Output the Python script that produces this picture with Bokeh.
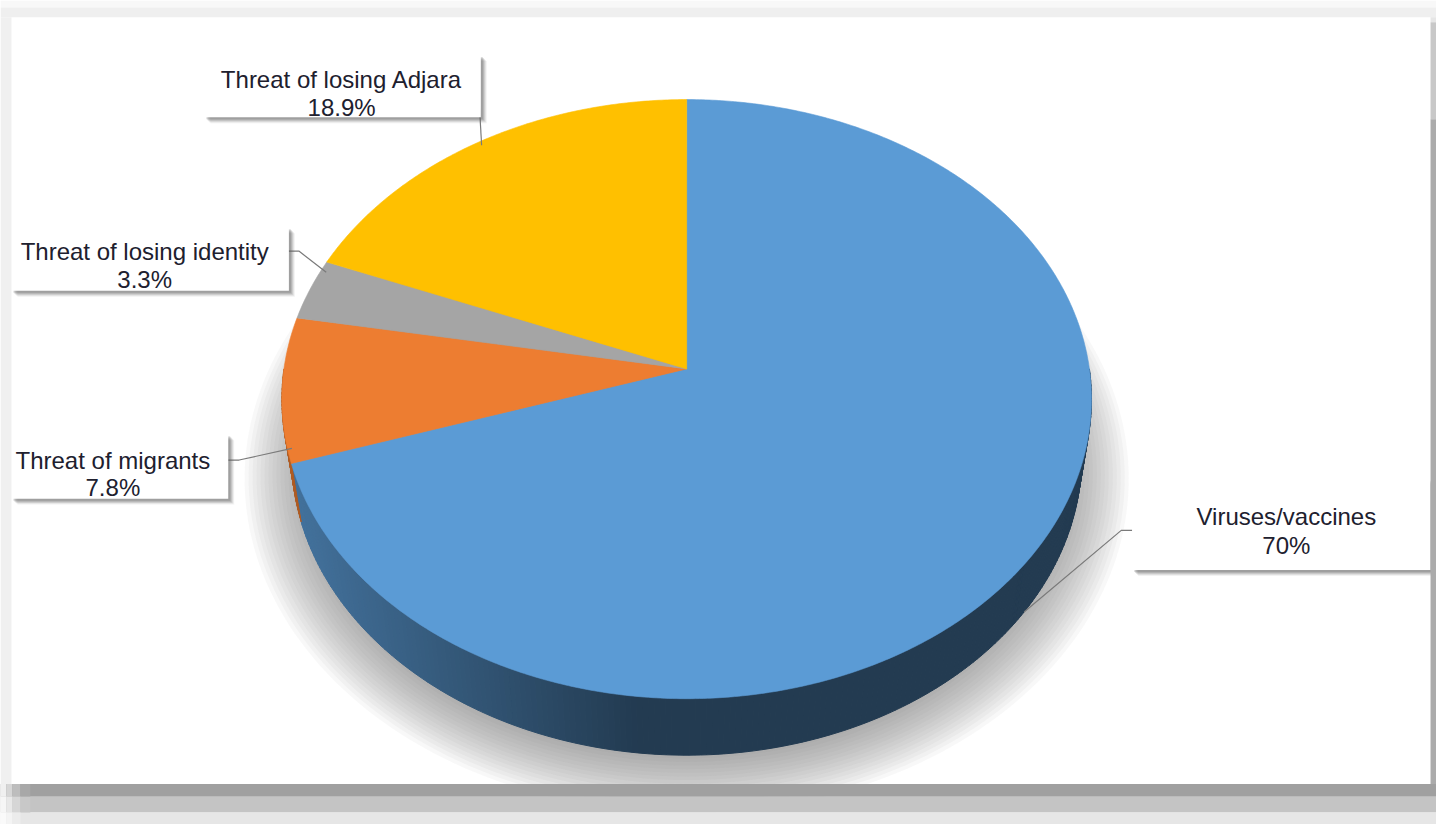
import numpy as np
from bokeh.plotting import figure
from bokeh.models import Range1d
from bokeh.embed import file_html
from bokeh.resources import INLINE
from bokeh.core.properties import value

# ---------------- data ----------------
categories = ["Viruses/vaccines", "Threat of migrants", "Threat of losing identity", "Threat of losing Adjara"]
shares = [70.0, 7.8, 3.3, 18.9]
share_labels = ["70%", "7.8%", "3.3%", "18.9%"]

# ---------------- style / layout ----------------
top_colors = ["#5b9bd5", "#ed7d31", "#a5a5a5", "#ffc000"]
TEXT_COLOR = "#20202e"
FONT = "Liberation Sans"

# label boxes: (left, right, top, bottom), text centre x, baseline 1, baseline 2, elbow points
label_boxes = [(1138, 1438, 483, 575), (11, 229, 438, 503), (11, 290, 229, 293), (205, 483, 55, 118)]
label_cx = [1293, 113, 145, 343]
label_base1 = [521, 464, 253, 80]
label_base2 = [550, 492, 282, 108]
label_elbows = [[(1138, 535), (1127, 535)], [(227, 464), (240, 464)],
                [(288, 253), (300, 253)], [(480, 78)]]
anchor_shift = [0.0, 0.0, 4.0, 0.0]   # degrees, fine placement of leader ends

# 3-D projection of the pie (screen pixel space)
CX, CY = 690.0, 372.0
FSC = 2704.0
DIST = 6.677
SA, CA = 0.7393, 0.6733
THICK = 0.2235


def proj(theta_deg, r=1.0, h=0.0):
    th = np.radians(np.asarray(theta_deg, dtype=float))
    u = r * np.sin(th)
    v = -r * np.cos(th)
    z = DIST - h * SA - v * CA
    x = CX + FSC * u / z
    y = CY - FSC * (h * CA - v * SA) / z
    return x, y


def shade(hex_color, f):
    h = hex_color.lstrip("#")
    rgb = [int(h[i:i + 2], 16) for i in (0, 2, 4)]
    return "#" + "".join("%02x" % int(max(0, min(255, round(c * f)))) for c in rgb)


total = sum(shares)
ends = np.cumsum([s / total * 360.0 for s in shares])
starts = np.concatenate([[0.0], ends[:-1]])
mids = (starts + ends) / 2.0

p = figure(width=1436, height=824, x_range=Range1d(0, 1444), y_range=Range1d(832, 0),
           output_backend="svg", toolbar_location=None, min_border=0)
p.axis.visible = False
p.grid.visible = False
p.outline_line_color = None
p.background_fill_color = "white"
p.border_fill_color = "white"

# ---- soft shadow under the pie ----
sh_xs, sh_ys = [], []
full = np.linspace(0, 360, 241)
for k in range(18):
    r = 1.12 - k * 0.01
    x, y = proj(full, r=r, h=-0.24)
    sh_xs.append(list(x))
    sh_ys.append(list(y + 10))
p.patches(sh_xs, sh_ys, fill_color="#6e6e6e", fill_alpha=0.05, line_color=None)

# ---- side wall ----
sd_xs, sd_ys, sd_cols = [], [], []
for i in range(len(shares)):
    a0 = max(starts[i], 90.0)
    a1 = min(ends[i], 270.0)
    if a1 <= a0:
        continue
    n = max(2, int((a1 - a0) / 0.75) + 1)
    angs = np.linspace(a0, a1, n)
    for j in range(n - 1):
        ta, tb = angs[j], angs[j + 1]
        xa, ya = proj([ta, tb], 1.0, 0.0)
        xb, yb = proj([tb, ta], 1.0, -THICK)
        xs = list(xa) + list(xb)
        ys = list(ya) + list(yb)
        mx = float(np.mean(xs))
        f = 0.74 - (0.74 - 0.38) * np.clip((mx - 290.0) / (640.0 - 290.0), 0, 1)
        sd_xs.append(xs)
        sd_ys.append(ys)
        sd_cols.append(shade(top_colors[i], f))
p.patches(sd_xs, sd_ys, fill_color=sd_cols, line_color=sd_cols, line_width=1)

# ---- top face ----
tp_xs, tp_ys = [], []
for i in range(len(shares)):
    angs = np.linspace(starts[i], ends[i], max(3, int(ends[i] - starts[i]) * 2 + 2))
    x, y = proj(angs)
    tp_xs.append([CX] + list(x))
    tp_ys.append([CY] + list(y))
p.patches(tp_xs, tp_ys, fill_color=top_colors, line_color=top_colors, line_width=0.6)

# ---- leader lines ----
ld_xs, ld_ys = [], []
for i in range(len(shares)):
    a = mids[i] + anchor_shift[i]
    if 90.0 < a < 270.0:
        ax, ay = proj(a, 1.0, -THICK)
    else:
        ax, ay = proj(a, 0.985, 0.0)
    pts = label_elbows[i] + [(float(ax), float(ay))]
    ld_xs.append([q[0] for q in pts])
    ld_ys.append([q[1] for q in pts])
p.multi_line(ld_xs, ld_ys, line_color="#7a7a7a", line_width=1.2)

# ---- label boxes with shadow ----
for off, al in [(6, 0.08), (5, 0.12), (4, 0.16), (3, 0.20), (2, 0.22)]:
    p.quad(left=[b[0] + off for b in label_boxes], right=[b[1] + off for b in label_boxes],
           top=[b[2] + off for b in label_boxes], bottom=[b[3] + off for b in label_boxes],
           fill_color="#5a5a5a", fill_alpha=al, line_color=None)
p.quad(left=[b[0] for b in label_boxes], right=[b[1] for b in label_boxes],
       top=[b[2] for b in label_boxes], bottom=[b[3] for b in label_boxes],
       fill_color="white", line_color=None)

p.text(x=label_cx, y=label_base1, text=categories, text_font=value(FONT), text_font_size="24px",
       text_color=TEXT_COLOR, text_align="center", text_baseline="alphabetic")
p.text(x=label_cx, y=label_base2, text=share_labels, text_font=value(FONT), text_font_size="24px",
       text_color=TEXT_COLOR, text_align="center", text_baseline="alphabetic")

# ---- outer frame (light top/left, dark right/bottom edges) ----
fr_l = [0, 0, 0, 1438, 1438, 1438, 0, 0, 0, 0, 6, 12, 20, 0, 6, 12, 20, 0, 6, 12]
fr_r = [1444, 1444, 11, 1444, 1444, 1444, 1444, 1444, 1444, 6, 12, 20, 30, 6, 12, 20, 30, 6, 12, 20]
fr_t = [0, 7, 17, 17, 22, 120, 791, 804, 820, 791, 791, 791, 791, 804, 804, 804, 804, 820, 820, 820]
fr_b = [7, 17, 791, 22, 120, 791, 804, 820, 832, 804, 804, 804, 804, 820, 820, 820, 820, 832, 832, 832]
fr_c = ["#f8f8f8", "#efefef", "#f0f0f0", "#e6e6e6", "#c8c8c8", "#ababab",
        "#a0a0a0", "#c4c4c4", "#e6e6e6",
        "#f0f0f0", "#d6d6d6", "#bdbdbd", "#a8a8a8",
        "#f6f6f6", "#e8e8e8", "#d6d6d6", "#c8c8c8",
        "#fafafa", "#f4f4f4", "#ececec"]
p.quad(left=fr_l, right=fr_r, top=fr_t, bottom=fr_b, fill_color=fr_c, line_color=None)

open("out.html", "w").write(file_html(p, INLINE))
